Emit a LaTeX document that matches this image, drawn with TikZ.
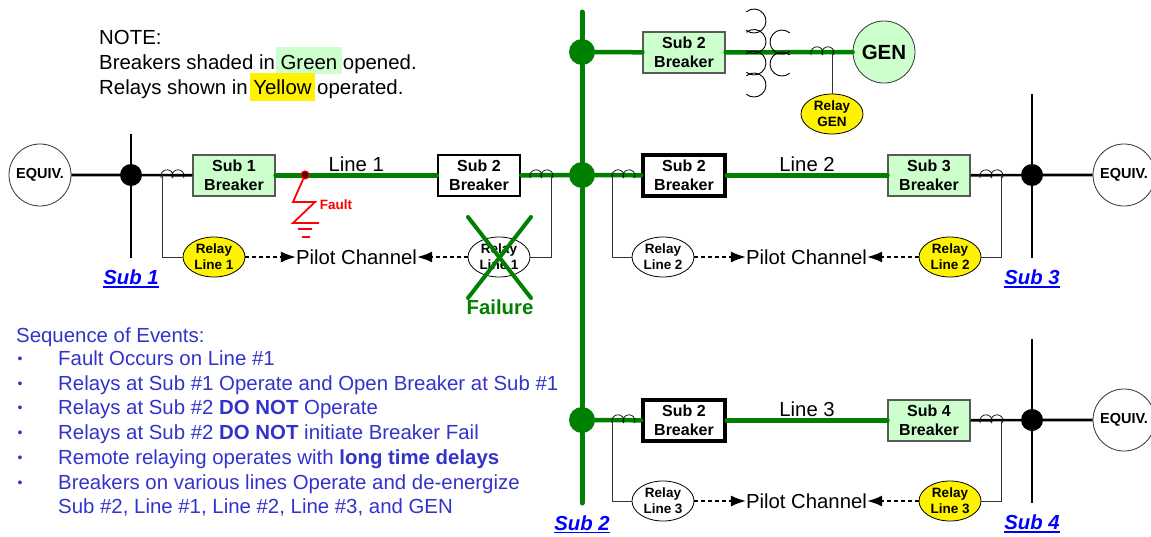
\documentclass[tikz,border=0pt]{standalone}
\usepackage{fontspec}
\setmainfont{Liberation Sans}
\usepackage{xcolor}
\usetikzlibrary{arrows.meta,shapes.geometric}
\definecolor{busgreen}{HTML}{008000}
\definecolor{openedgreen}{HTML}{CCFFCC}
\definecolor{seqblue}{HTML}{3333CC}
\newcommand{\fsz}[1]{\fontsize{#1}{#1}\selectfont}
\newcommand{\subul}[1]{\vtop{\hbox{#1}\kern1.2pt\hrule height 1.8pt}}
\newcommand{\ctcoil}[2]{\draw[ctline] (#1+6,#2+1) +(200:6.2pt) arc[start angle=200,end angle=-20,radius=6.2pt];
  \draw[ctline] (#1+17,#2+1) +(200:6.2pt) arc[start angle=200,end angle=-20,radius=6.2pt];}
\tikzset{
  brkopen/.style={draw=black!65,line width=1.2pt,fill=openedgreen,minimum width=82pt,minimum height=41pt,inner sep=0pt,align=center,font=\fontsize{16}{19.5}\selectfont\bfseries},
  brkclosed/.style={brkopen,draw=black,fill=white,line width=3.5pt},
  relayoff/.style={ellipse,draw=black,line width=0.8pt,fill=white,minimum width=62pt,minimum height=40pt,inner sep=0pt,align=center,font=\fontsize{13.5}{16}\selectfont\bfseries},
  relayon/.style={relayoff,fill=yellow},
  equiv/.style={circle,draw=black!80,line width=0.8pt,fill=white,minimum size=62pt,inner sep=0pt,font=\fsz{14.5}\bfseries},
  busdot/.style={circle,fill=black,minimum size=22pt,inner sep=0pt},
  busdotg/.style={circle,fill=busgreen,minimum size=26pt,inner sep=0pt},
  subname/.style={text=blue,font=\fsz{20.3}\bfseries\itshape},
  bigtext/.style={font=\fsz{20.3},inner sep=0pt},
  notetext/.style={anchor=base west,font=\fsz{20.4},inner sep=0pt},
  seqtext/.style={anchor=base west,text=seqblue,font=\fsz{20.4},inner sep=0pt},
  seqdot/.style={text=seqblue,font=\fsz{14},inner sep=0pt},
  blackline/.style={line width=2.6pt,black},
  greenline/.style={line width=4.5pt,busgreen,line cap=round},
  ctline/.style={line width=0.7pt,black},
  tapline/.style={line width=0.9pt,black!80},
  pilotarrow/.style={line width=1.8pt,dash pattern=on 4pt off 3pt,-{Latex[length=15pt,width=11pt]}},
}
\begin{document}
\begin{tikzpicture}[x=1pt,y=-1pt]
\useasboundingbox (0,0) rectangle (1151,536);
% note
\node[fill=openedgreen,minimum width=66pt,minimum height=27pt,inner sep=0pt] (green) at (309,60.5) {};
\node[fill=yellow,minimum width=65pt,minimum height=28pt,inner sep=0pt] (yellow) at (282.5,87) {};
\node[notetext] (note1) at (99,44) {NOTE:};
\node[notetext] (note2) at (99,69) {Breakers shaded in Green opened.};
\node[notetext] (note3) at (99,94) {Relays shown in Yellow operated.};
% buses
\coordinate (bus1top) at (131,134); \coordinate (bus1bot) at (131,258);
\coordinate (bus2top) at (582,12); \coordinate (bus2bot) at (582,503);
\coordinate (bus3top) at (1032,94); \coordinate (bus3bot) at (1032,258);
\coordinate (bus4top) at (1032,339); \coordinate (bus4bot) at (1032,503);
\node[busdot] (dot1) at (131,175) {};
\node[busdotg] (dot2a) at (582,52) {};
\node[busdotg] (dot2b) at (582,175) {};
\node[busdotg] (dot2c) at (582,420) {};
\node[busdot] (dot3) at (1032,175) {};
\node[busdot] (dot4) at (1032,420) {};
\draw[blackline] (bus1top) -- (dot1) -- (bus1bot);
\draw[blackline] (bus3top) -- (dot3) -- (bus3bot);
\draw[blackline] (bus4top) -- (dot4) -- (bus4bot);
\draw[line width=5pt,busgreen,line cap=round] (bus2top) -- (dot2a) -- (dot2b) -- (dot2c) -- (bus2bot);
% breakers
\node[brkopen] (brk1) at (234,175.5) {Sub 1\\Breaker};
\node[brkclosed,line width=2.5pt] (brk2a) at (479,175.5) {Sub 2\\Breaker};
\node[brkopen] (brk2top) at (684,52.5) {Sub 2\\Breaker};
\node[brkclosed] (brk2b) at (684,175.5) {Sub 2\\Breaker};
\node[brkopen] (brk3) at (929,175.5) {Sub 3\\Breaker};
\node[brkclosed] (brk2c) at (684,420.5) {Sub 2\\Breaker};
\node[brkopen] (brk4) at (929,420.5) {Sub 4\\Breaker};
% sources
\node[equiv] (equiv1) at (40,175) {EQUIV.};
\node[equiv] (equiv3) at (1124,175) {EQUIV.};
\node[equiv] (equiv4) at (1124,420) {EQUIV.};
\node[circle,draw=black!80,line width=0.8pt,fill=openedgreen,minimum size=62pt,inner sep=0pt,font=\fsz{20.5}\bfseries] (gen) at (884,52) {GEN};
% lines
\draw[blackline] (equiv1) -- (dot1) -- (brk1);
\draw[greenline] (brk1) -- (brk2a) node[midway,above=2pt,bigtext,text=black] (line1) {Line 1};
\draw[greenline] (brk2a) -- (dot2b) -- (brk2b);
\draw[greenline] (brk2b) -- (brk3) node[midway,above=2pt,bigtext,text=black] (line2) {Line 2};
\draw[blackline] (brk3) -- (dot3) -- (equiv3);
\draw[greenline] (dot2c) -- (brk2c);
\draw[greenline] (brk2c) -- (brk4) node[midway,above=2pt,bigtext,text=black] (line3) {Line 3};
\draw[blackline] (brk4) -- (dot4) -- (equiv4);
\draw[greenline] (dot2a) -- (brk2top);
\draw[greenline] (brk2top) -- (gen);
% transformer
\foreach \yy in {21,41.5,63,85} \draw[line width=0.9pt] (754,\yy) +(130:12pt) arc[start angle=130,end angle=-130,radius=12pt];
\foreach \yy in {42,64} \draw[line width=0.9pt] (782,\yy) +(50:12pt) arc[start angle=50,end angle=310,radius=12pt];
% current transformers
\ctcoil{161}{175} \ctcoil{530}{175} \ctcoil{612}{175} \ctcoil{980}{175} \ctcoil{811}{52} \ctcoil{612}{420} \ctcoil{980}{420}
% relays
\node[relayon] (relay1) at (214,257) {Relay\\Line 1};
\node[relayoff] (relay2) at (499,257) {Relay\\Line 1};
\node[relayoff] (relay3) at (663,257) {Relay\\Line 2};
\node[relayon] (relay4) at (950,257) {Relay\\Line 2};
\node[relayoff] (relay5) at (663,501) {Relay\\Line 3};
\node[relayon] (relay6) at (950,501) {Relay\\Line 3};
\node[relayon] (relaygen) at (832,114) {Relay\\GEN};
\coordinate (tap1) at (162,175); \coordinate (tap2) at (551,175); \coordinate (tap3) at (612,175);
\coordinate (tap4) at (1001,175); \coordinate (tap5) at (612,420); \coordinate (tap6) at (1001,420);
\coordinate (tapgen) at (832,52);
\draw[tapline] (tap1) |- (relay1);
\draw[tapline] (tap2) |- (relay2);
\draw[tapline] (tap3) |- (relay3);
\draw[tapline] (tap4) |- (relay4);
\draw[tapline] (tap5) |- (relay5);
\draw[tapline] (tap6) |- (relay6);
\draw[tapline] (tapgen) -- (relaygen);
% pilot channels
\node[bigtext] (pilot1) at (356.5,257) {Pilot Channel};
\node[bigtext] (pilot2) at (806.5,257) {Pilot Channel};
\node[bigtext] (pilot3) at (806.5,501) {Pilot Channel};
\draw[pilotarrow] (relay1) -- (pilot1);
\draw[pilotarrow] (relay2) -- (pilot1);
\draw[pilotarrow] (relay3) -- (pilot2);
\draw[pilotarrow] (relay4) -- (pilot2);
\draw[pilotarrow] (relay5) -- (pilot3);
\draw[pilotarrow] (relay6) -- (pilot3);
% fault
\node[circle,draw=red,fill=black!70!red,line width=1.2pt,minimum size=8pt,inner sep=0pt] (fault) at (305,175) {};
\coordinate (gnd1) at (319,223);
\draw[red,line width=1.8pt] (fault) -- (293,202) -- (315,202) -- (293,223) -- (gnd1);
\draw[red,line width=1.8pt] (298,229) -- (312,229) (302,237) -- (310,237);
\node[text=red,font=\fsz{13.5}\bfseries,inner sep=0pt] (faultlbl) at (336,205) {Fault};
% failure
\coordinate (xa) at (468,217); \coordinate (xb) at (531,298);
\coordinate (xc) at (531,217); \coordinate (xd) at (468,298);
\draw[line width=4pt,busgreen,line cap=round] (xa) -- (xb);
\draw[line width=4pt,busgreen,line cap=round] (xc) -- (xd);
\node[text=busgreen,font=\fsz{20.3}\bfseries,inner sep=0pt] (failure) at (500,307) {Failure};
% substations
\node[subname] (sub1) at (131,279) {\subul{Sub 1}};
\node[subname] (sub2) at (582,524.5) {\subul{Sub 2}};
\node[subname] (sub3) at (1032,279) {\subul{Sub 3}};
\node[subname] (sub4) at (1032,524) {\subul{Sub 4}};
% events
\node[seqtext] (seq0) at (16,342) {Sequence of Events:};
\node[seqtext] (seq1) at (58,365) {Fault Occurs on Line \#1};
\node[seqtext] (seq2) at (58,390) {Relays at Sub \#1 Operate and Open Breaker at Sub \#1};
\node[seqtext] (seq3) at (58,414) {Relays at Sub \#2 \textbf{DO NOT} Operate};
\node[seqtext] (seq4) at (58,439) {Relays at Sub \#2 \textbf{DO NOT} initiate Breaker Fail};
\node[seqtext] (seq5) at (58,464) {Remote relaying operates with \textbf{long time delays}};
\node[seqtext] (seq6) at (58,489) {Breakers on various lines Operate and de-energize};
\node[seqtext] (seq7) at (58,513) {Sub \#2, Line \#1, Line \#2, Line \#3, and GEN};
\foreach \yy in {360,385,409,434,459,484} \node[seqdot] at (20,\yy) {•};
\end{tikzpicture}
\end{document}
